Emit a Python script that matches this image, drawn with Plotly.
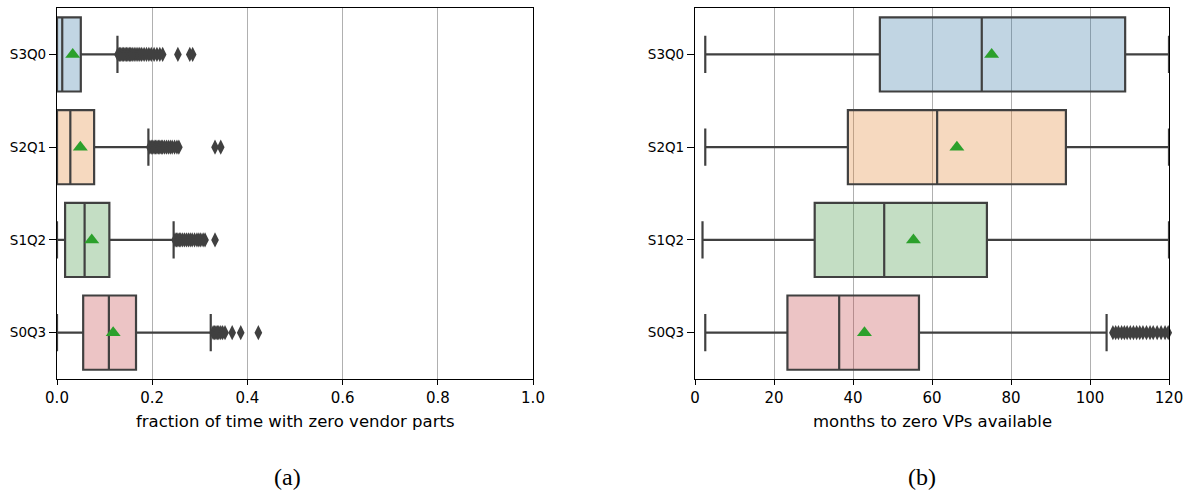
import plotly.graph_objects as go

categories = ["S3Q0", "S2Q1", "S1Q2", "S0Q3"]

# Panel (a): fraction of time with zero vendor parts
a_low = [0.0, 0.0, 0.0, 0.0]
a_q1 = [0.0, 0.0, 0.017, 0.055]
a_med = [0.011, 0.028, 0.058, 0.109]
a_q3 = [0.050, 0.078, 0.110, 0.166]
a_high = [0.127, 0.192, 0.245, 0.323]
a_mean = [0.033, 0.049, 0.073, 0.118]
a_out = [
    [0.128, 0.131, 0.134, 0.137, 0.140, 0.143, 0.146, 0.149, 0.152, 0.155, 0.158, 0.162,
     0.166, 0.170, 0.174, 0.178, 0.183, 0.188, 0.193, 0.198, 0.204, 0.210, 0.216, 0.222,
     0.254, 0.279, 0.285],
    [0.195, 0.198, 0.201, 0.204, 0.207, 0.210, 0.213, 0.216, 0.219, 0.222, 0.226, 0.230,
     0.234, 0.238, 0.242, 0.247, 0.252, 0.256, 0.332, 0.344],
    [0.248, 0.251, 0.254, 0.257, 0.260, 0.264, 0.268, 0.272, 0.276, 0.280, 0.284, 0.289,
     0.294, 0.298, 0.302, 0.307, 0.311, 0.332],
    [0.328, 0.331, 0.334, 0.337, 0.340, 0.344, 0.348, 0.353, 0.368, 0.386, 0.423],
]

# Panel (b): months to zero VPs available
b_low = [2.6, 2.6, 1.9, 2.6]
b_q1 = [46.8, 38.7, 30.3, 23.4]
b_med = [72.6, 61.3, 47.9, 36.5]
b_q3 = [108.9, 93.9, 73.9, 56.7]
b_high = [120.0, 120.0, 120.0, 104.2]
b_mean = [75.1, 66.3, 55.3, 42.9]
b_out = [
    [],
    [],
    [],
    [105.8, 106.5, 107.2, 108.0, 108.7, 109.4, 110.2, 111.0, 111.8, 112.6, 113.4, 114.3,
     115.2, 116.0, 117.0, 118.0, 119.0, 119.8],
]

fills = ["rgba(50,116,161,0.3)", "rgba(225,129,44,0.3)",
         "rgba(59,146,59,0.3)", "rgba(192,61,62,0.3)"]
edge = "#404040"

fig = go.Figure()


def add_panel(xa, ya, low, q1, med, q3, high, mean, outs):
    for i, c in enumerate(categories):
        fig.add_trace(go.Box(
            y=[c], q1=[q1[i]], median=[med[i]], q3=[q3[i]],
            lowerfence=[low[i]], upperfence=[high[i]],
            orientation="h", fillcolor=fills[i], width=0.8,
            line=dict(color=edge, width=2.2), whiskerwidth=0.5,
            boxpoints=False, showlegend=False, hoverinfo="skip",
            xaxis=xa, yaxis=ya,
        ))
    for i, c in enumerate(categories):
        if outs[i]:
            fig.add_trace(go.Scatter(
                x=outs[i], y=[c] * len(outs[i]), mode="markers",
                marker=dict(symbol="diamond-tall", size=11, color=edge,
                            line=dict(width=0)),
                showlegend=False, xaxis=xa, yaxis=ya, cliponaxis=False,
            ))
    fig.add_trace(go.Scatter(
        x=mean, y=categories, mode="markers",
        marker=dict(symbol="triangle-up", size=13, color="#2ca02c",
                    line=dict(width=0)),
        showlegend=False, xaxis=xa, yaxis=ya,
    ))


add_panel("x", "y", a_low, a_q1, a_med, a_q3, a_high, a_mean, a_out)
add_panel("x2", "y2", b_low, b_q1, b_med, b_q3, b_high, b_mean, b_out)

font = "DejaVu Sans"
common_x = dict(showline=True, mirror=True, linecolor="black", linewidth=1.2,
                ticks="outside", ticklen=5, tickwidth=1.2, tickcolor="black",
                showgrid=True, gridcolor="#b0b0b0", gridwidth=1, zeroline=False,
                tickfont=dict(family=font, size=15, color="black"))
common_y = dict(showline=True, mirror=True, linecolor="black", linewidth=1.2,
                ticks="outside", ticklen=7, tickwidth=1.2, tickcolor="black",
                showgrid=False, zeroline=False, type="category",
                categoryorder="array", categoryarray=categories[::-1],
                range=[-0.5, 3.5],
                tickfont=dict(family=font, size=13.5, color="black"))

W, H = 1190, 491
ml, mr, mt, mb = 57, 21, 8, 112
pw = W - ml - mr
d1 = [0, (533 - ml) / pw]
d2 = [(695 - ml) / pw, 1]

fig.update_layout(
    width=W, height=H,
    margin=dict(l=ml, r=mr, t=mt, b=mb),
    paper_bgcolor="white", plot_bgcolor="white",
    boxmode="overlay",
    xaxis=dict(domain=d1, range=[0, 1], tickvals=[0, 0.2, 0.4, 0.6, 0.8, 1.0],
               ticktext=["0.0", "0.2", "0.4", "0.6", "0.8", "1.0"], **common_x),
    yaxis=dict(anchor="x", **common_y),
    xaxis2=dict(domain=d2, range=[0, 120], tickvals=[0, 20, 40, 60, 80, 100, 120],
                anchor="y2", **common_x),
    yaxis2=dict(anchor="x2", **common_y),
    font=dict(family=font, color="black"),
)

ph = H - mt - mb


def py(pix):
    return (H - mb - pix) / ph


def px(pix):
    return (pix - ml) / pw


anns = [
    dict(text="fraction of time with zero vendor parts", x=px(295), y=py(422),
         font=dict(family=font, size=16.5, color="black")),
    dict(text="months to zero VPs available", x=px(932), y=py(422),
         font=dict(family=font, size=16.5, color="black")),
    dict(text="(a)", x=px(287), y=py(477),
         font=dict(family="Liberation Serif", size=24, color="black")),
    dict(text="(b)", x=px(922), y=py(477),
         font=dict(family="Liberation Serif", size=24, color="black")),
]
for a in anns:
    fig.add_annotation(xref="paper", yref="paper", xanchor="center",
                       yanchor="middle", showarrow=False, **a)

fig.write_html("out.html")
